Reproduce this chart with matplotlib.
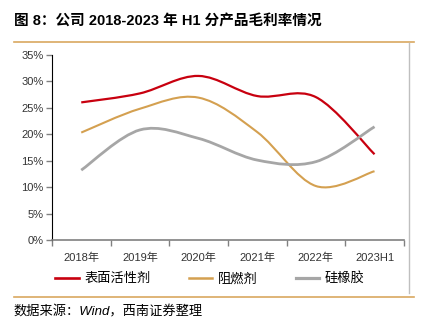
import matplotlib
matplotlib.use('Agg')
import matplotlib.pyplot as plt
from matplotlib.path import Path
from matplotlib.patches import PathPatch
from matplotlib.lines import Line2D

plt.rcParams['font.family'] = ['Liberation Sans', 'Noto Sans CJK SC']

years = ['2018年', '2019年', '2020年', '2021年', '2022年', '2023H1']
surfactant = [26.0, 27.7, 31.0, 27.2, 27.0, 16.2]
flame_ret = [20.3, 24.8, 26.9, 20.4, 10.2, 13.0]
silicone = [13.2, 20.8, 19.2, 15.1, 14.8, 21.4]

series = [('表面活性剂', surfactant, '#C8000F', 1.6),
          ('阻燃剂', flame_ret, '#D4A050', 1.5),
          ('硅橡胶', silicone, '#A6A6A6', 2.0)]


def smooth_path(xs, ys):
    # excel-like smoothed line, Catmull-Rom as cubic bezier
    pts = list(zip(xs, ys))
    verts = [pts[0]]
    codes = [Path.MOVETO]
    n = len(pts)
    for i in range(n - 1):
        p0 = pts[i - 1] if i > 0 else pts[i]
        p1 = pts[i]
        p2 = pts[i + 1]
        p3 = pts[i + 2] if i + 2 < n else pts[i + 1]
        c1 = (p1[0] + (p2[0] - p0[0]) / 6, p1[1] + (p2[1] - p0[1]) / 6)
        c2 = (p2[0] - (p3[0] - p1[0]) / 6, p2[1] - (p3[1] - p1[1]) / 6)
        verts += [c1, c2, p2]
        codes += [Path.CURVE4] * 3
    return Path(verts, codes)


fig = plt.figure(figsize=(4.22, 3.25), dpi=100)
ax = fig.add_axes([0.123, 0.2615, 0.834, 0.570])

x = list(range(len(years)))
handles = []
for name, vals, col, lw in series:
    ax.add_patch(PathPatch(smooth_path(x, vals), facecolor='none', edgecolor=col,
                           lw=lw, capstyle='butt'))
    handles.append(Line2D([], [], color=col, lw=lw + 0.3, label=name))

ax.set_xlim(-0.5, 5.5)
ax.set_ylim(0, 35)
ax.set_yticks(range(0, 36, 5))
ax.set_yticklabels([f'{v}%' for v in range(0, 36, 5)], fontsize=8, color='#333333')
ax.set_xticks([i - 0.5 for i in range(7)])
ax.set_xticklabels([])
ax.set_xticks(x, minor=True)
ax.set_xticklabels(years, minor=True, fontsize=8, color='#333333')
ax.tick_params(axis='x', which='major', length=4, color='#808080', width=1)
ax.tick_params(axis='x', which='minor', length=0, pad=9)
ax.tick_params(axis='y', length=4, color='#808080', width=1, pad=2)

for s in ['top', 'right']:
    ax.spines[s].set_visible(False)
ax.spines['left'].set_color('black')
ax.spines['bottom'].set_color('#808080')
ax.spines['bottom'].set_linewidth(1.2)

fig.legend(handles=handles, loc='center', bbox_to_anchor=(0.497, 0.142), ncol=3,
           frameon=False, fontsize=9.5, handlelength=1.8, columnspacing=2.9,
           handletextpad=0.4)

# title, frame lines and source
fig.text(0.033, 0.935, '图 8：公司 2018-2023 年 H1 分产品毛利率情况', fontsize=10.5,
         fontweight='bold', va='center', ha='left')
fig.add_artist(Line2D([0.033, 0.981], [0.872, 0.872], color='#D9A860', lw=1.2))
fig.add_artist(Line2D([0.033, 0.981], [0.086, 0.086], color='#D9A860', lw=1.2))
fig.add_artist(Line2D([0.969, 0.969], [0.868, 0.098], color='#BFBFBF', lw=1))
fig.text(0.033, 0.04, '数据来源：Wind，西南证券整理', fontsize=9.5, style='italic',
         va='center', ha='left')

fig.savefig('out.png', dpi=100)
